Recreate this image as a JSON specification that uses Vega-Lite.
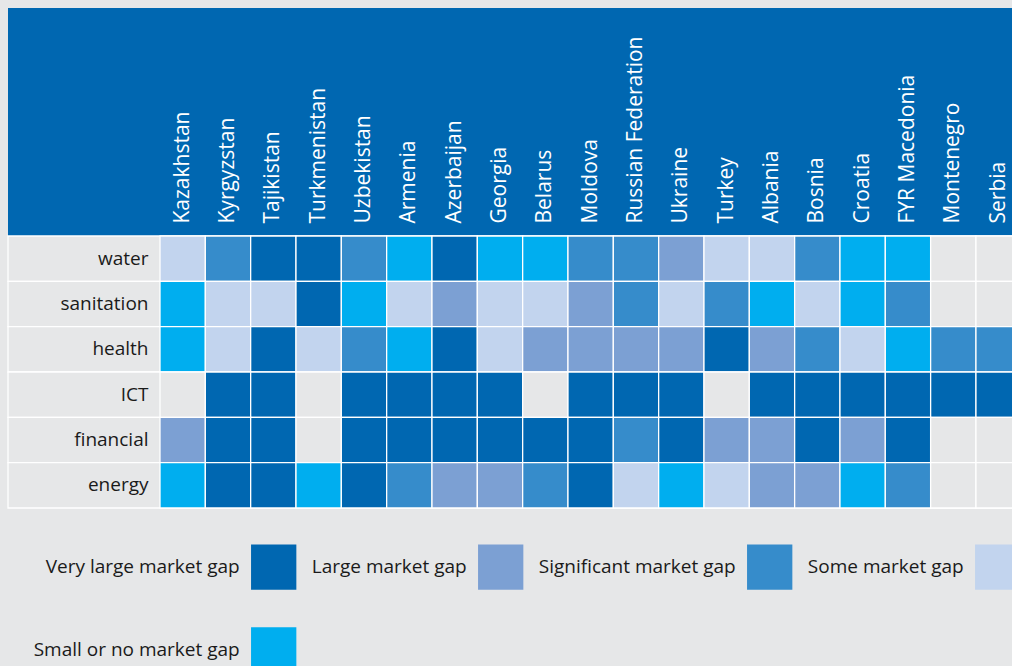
{
  "$schema": "https://vega.github.io/schema/vega-lite/v6.json",
  "width": 1004,
  "height": 500,
  "autosize": {"type": "none"},
  "padding": {"left": 8, "top": 8, "right": 0, "bottom": 158},
  "background": "#e6e7e8",
  "view": {"fill": "#0067b1", "stroke": null},
  "config": {"font": "Open Sans"},
  "data": {
    "values": [
      {"country": "Kazakhstan", "sector": "water", "gap": "Some market gap"},
      {"country": "Kyrgyzstan", "sector": "water", "gap": "Significant market gap"},
      {"country": "Tajikistan", "sector": "water", "gap": "Very large market gap"},
      {"country": "Turkmenistan", "sector": "water", "gap": "Very large market gap"},
      {"country": "Uzbekistan", "sector": "water", "gap": "Significant market gap"},
      {"country": "Armenia", "sector": "water", "gap": "Small or no market gap"},
      {"country": "Azerbaijan", "sector": "water", "gap": "Very large market gap"},
      {"country": "Georgia", "sector": "water", "gap": "Small or no market gap"},
      {"country": "Belarus", "sector": "water", "gap": "Small or no market gap"},
      {"country": "Moldova", "sector": "water", "gap": "Significant market gap"},
      {"country": "Russian Federation", "sector": "water", "gap": "Significant market gap"},
      {"country": "Ukraine", "sector": "water", "gap": "Large market gap"},
      {"country": "Turkey", "sector": "water", "gap": "Some market gap"},
      {"country": "Albania", "sector": "water", "gap": "Some market gap"},
      {"country": "Bosnia", "sector": "water", "gap": "Significant market gap"},
      {"country": "Croatia", "sector": "water", "gap": "Small or no market gap"},
      {"country": "FYR Macedonia", "sector": "water", "gap": "Small or no market gap"},
      {"country": "Montenegro", "sector": "water", "gap": "No data"},
      {"country": "Serbia", "sector": "water", "gap": "No data"},

      {"country": "Kazakhstan", "sector": "sanitation", "gap": "Small or no market gap"},
      {"country": "Kyrgyzstan", "sector": "sanitation", "gap": "Some market gap"},
      {"country": "Tajikistan", "sector": "sanitation", "gap": "Some market gap"},
      {"country": "Turkmenistan", "sector": "sanitation", "gap": "Very large market gap"},
      {"country": "Uzbekistan", "sector": "sanitation", "gap": "Small or no market gap"},
      {"country": "Armenia", "sector": "sanitation", "gap": "Some market gap"},
      {"country": "Azerbaijan", "sector": "sanitation", "gap": "Large market gap"},
      {"country": "Georgia", "sector": "sanitation", "gap": "Some market gap"},
      {"country": "Belarus", "sector": "sanitation", "gap": "Some market gap"},
      {"country": "Moldova", "sector": "sanitation", "gap": "Large market gap"},
      {"country": "Russian Federation", "sector": "sanitation", "gap": "Significant market gap"},
      {"country": "Ukraine", "sector": "sanitation", "gap": "Some market gap"},
      {"country": "Turkey", "sector": "sanitation", "gap": "Significant market gap"},
      {"country": "Albania", "sector": "sanitation", "gap": "Small or no market gap"},
      {"country": "Bosnia", "sector": "sanitation", "gap": "Some market gap"},
      {"country": "Croatia", "sector": "sanitation", "gap": "Small or no market gap"},
      {"country": "FYR Macedonia", "sector": "sanitation", "gap": "Significant market gap"},
      {"country": "Montenegro", "sector": "sanitation", "gap": "No data"},
      {"country": "Serbia", "sector": "sanitation", "gap": "No data"},

      {"country": "Kazakhstan", "sector": "health", "gap": "Small or no market gap"},
      {"country": "Kyrgyzstan", "sector": "health", "gap": "Some market gap"},
      {"country": "Tajikistan", "sector": "health", "gap": "Very large market gap"},
      {"country": "Turkmenistan", "sector": "health", "gap": "Some market gap"},
      {"country": "Uzbekistan", "sector": "health", "gap": "Significant market gap"},
      {"country": "Armenia", "sector": "health", "gap": "Small or no market gap"},
      {"country": "Azerbaijan", "sector": "health", "gap": "Very large market gap"},
      {"country": "Georgia", "sector": "health", "gap": "Some market gap"},
      {"country": "Belarus", "sector": "health", "gap": "Large market gap"},
      {"country": "Moldova", "sector": "health", "gap": "Large market gap"},
      {"country": "Russian Federation", "sector": "health", "gap": "Large market gap"},
      {"country": "Ukraine", "sector": "health", "gap": "Large market gap"},
      {"country": "Turkey", "sector": "health", "gap": "Very large market gap"},
      {"country": "Albania", "sector": "health", "gap": "Large market gap"},
      {"country": "Bosnia", "sector": "health", "gap": "Significant market gap"},
      {"country": "Croatia", "sector": "health", "gap": "Some market gap"},
      {"country": "FYR Macedonia", "sector": "health", "gap": "Small or no market gap"},
      {"country": "Montenegro", "sector": "health", "gap": "Significant market gap"},
      {"country": "Serbia", "sector": "health", "gap": "Significant market gap"},

      {"country": "Kazakhstan", "sector": "ICT", "gap": "No data"},
      {"country": "Kyrgyzstan", "sector": "ICT", "gap": "Very large market gap"},
      {"country": "Tajikistan", "sector": "ICT", "gap": "Very large market gap"},
      {"country": "Turkmenistan", "sector": "ICT", "gap": "No data"},
      {"country": "Uzbekistan", "sector": "ICT", "gap": "Very large market gap"},
      {"country": "Armenia", "sector": "ICT", "gap": "Very large market gap"},
      {"country": "Azerbaijan", "sector": "ICT", "gap": "Very large market gap"},
      {"country": "Georgia", "sector": "ICT", "gap": "Very large market gap"},
      {"country": "Belarus", "sector": "ICT", "gap": "No data"},
      {"country": "Moldova", "sector": "ICT", "gap": "Very large market gap"},
      {"country": "Russian Federation", "sector": "ICT", "gap": "Very large market gap"},
      {"country": "Ukraine", "sector": "ICT", "gap": "Very large market gap"},
      {"country": "Turkey", "sector": "ICT", "gap": "No data"},
      {"country": "Albania", "sector": "ICT", "gap": "Very large market gap"},
      {"country": "Bosnia", "sector": "ICT", "gap": "Very large market gap"},
      {"country": "Croatia", "sector": "ICT", "gap": "Very large market gap"},
      {"country": "FYR Macedonia", "sector": "ICT", "gap": "Very large market gap"},
      {"country": "Montenegro", "sector": "ICT", "gap": "Very large market gap"},
      {"country": "Serbia", "sector": "ICT", "gap": "Very large market gap"},

      {"country": "Kazakhstan", "sector": "financial", "gap": "Large market gap"},
      {"country": "Kyrgyzstan", "sector": "financial", "gap": "Very large market gap"},
      {"country": "Tajikistan", "sector": "financial", "gap": "Very large market gap"},
      {"country": "Turkmenistan", "sector": "financial", "gap": "No data"},
      {"country": "Uzbekistan", "sector": "financial", "gap": "Very large market gap"},
      {"country": "Armenia", "sector": "financial", "gap": "Very large market gap"},
      {"country": "Azerbaijan", "sector": "financial", "gap": "Very large market gap"},
      {"country": "Georgia", "sector": "financial", "gap": "Very large market gap"},
      {"country": "Belarus", "sector": "financial", "gap": "Very large market gap"},
      {"country": "Moldova", "sector": "financial", "gap": "Very large market gap"},
      {"country": "Russian Federation", "sector": "financial", "gap": "Significant market gap"},
      {"country": "Ukraine", "sector": "financial", "gap": "Very large market gap"},
      {"country": "Turkey", "sector": "financial", "gap": "Large market gap"},
      {"country": "Albania", "sector": "financial", "gap": "Large market gap"},
      {"country": "Bosnia", "sector": "financial", "gap": "Very large market gap"},
      {"country": "Croatia", "sector": "financial", "gap": "Large market gap"},
      {"country": "FYR Macedonia", "sector": "financial", "gap": "Very large market gap"},
      {"country": "Montenegro", "sector": "financial", "gap": "No data"},
      {"country": "Serbia", "sector": "financial", "gap": "No data"},

      {"country": "Kazakhstan", "sector": "energy", "gap": "Small or no market gap"},
      {"country": "Kyrgyzstan", "sector": "energy", "gap": "Very large market gap"},
      {"country": "Tajikistan", "sector": "energy", "gap": "Very large market gap"},
      {"country": "Turkmenistan", "sector": "energy", "gap": "Small or no market gap"},
      {"country": "Uzbekistan", "sector": "energy", "gap": "Very large market gap"},
      {"country": "Armenia", "sector": "energy", "gap": "Significant market gap"},
      {"country": "Azerbaijan", "sector": "energy", "gap": "Large market gap"},
      {"country": "Georgia", "sector": "energy", "gap": "Large market gap"},
      {"country": "Belarus", "sector": "energy", "gap": "Significant market gap"},
      {"country": "Moldova", "sector": "energy", "gap": "Very large market gap"},
      {"country": "Russian Federation", "sector": "energy", "gap": "Some market gap"},
      {"country": "Ukraine", "sector": "energy", "gap": "Small or no market gap"},
      {"country": "Turkey", "sector": "energy", "gap": "Some market gap"},
      {"country": "Albania", "sector": "energy", "gap": "Large market gap"},
      {"country": "Bosnia", "sector": "energy", "gap": "Large market gap"},
      {"country": "Croatia", "sector": "energy", "gap": "Small or no market gap"},
      {"country": "FYR Macedonia", "sector": "energy", "gap": "Significant market gap"},
      {"country": "Montenegro", "sector": "energy", "gap": "No data"},
      {"country": "Serbia", "sector": "energy", "gap": "No data"}
    ]
  },
  "layer": [
    {
      "transform": [{"aggregate": [{"op": "count", "as": "n"}], "groupby": ["sector"]}],
      "mark": {"type": "rect", "fill": "#e6e7e8", "stroke": "white", "strokeWidth": 1.3},
      "encoding": {
        "y": {
          "field": "sector", "type": "nominal",
          "sort": ["water", "sanitation", "health", "ICT", "financial", "energy"],
          "scale": {"range": [228, 500], "paddingInner": 0, "paddingOuter": 0},
          "axis": {"orient": "left", "title": null, "offset": -152, "labelPadding": 12, "ticks": false, "domain": false, "grid": false, "labelFontSize": 19, "labelColor": "#1a1a1a", "labelFont": "Open Sans", "zindex": 1, "labelLimit": 300}
        }
      }
    },
    {
      "mark": {"type": "rect", "stroke": "white", "strokeWidth": 1.3},
      "encoding": {
        "x": {
          "field": "country", "type": "nominal",
          "sort": ["Kazakhstan", "Kyrgyzstan", "Tajikistan", "Turkmenistan", "Uzbekistan", "Armenia", "Azerbaijan", "Georgia", "Belarus", "Moldova", "Russian Federation", "Ukraine", "Turkey", "Albania", "Bosnia", "Croatia", "FYR Macedonia", "Montenegro", "Serbia"],
          "scale": {"range": [152, 1013.3], "paddingInner": 0, "paddingOuter": 0},
          "axis": {"orient": "top", "title": null, "offset": -215, "labelPadding": 0, "labelAngle": -90, "labelAlign": "left", "labelBaseline": "middle", "ticks": false, "domain": false, "grid": false, "labelFontSize": 21, "labelColor": "white", "labelFont": "Open Sans", "zindex": 1, "labelLimit": 300, "labelOverlap": false}
        },
        "y": {
          "field": "sector", "type": "nominal",
          "sort": ["water", "sanitation", "health", "ICT", "financial", "energy"],
          "scale": {"range": [228, 500], "paddingInner": 0, "paddingOuter": 0},
          "axis": {"orient": "left", "title": null, "offset": -152, "labelPadding": 12, "ticks": false, "domain": false, "grid": false, "labelFontSize": 19, "labelColor": "#1a1a1a", "labelFont": "Open Sans", "zindex": 1, "labelLimit": 300}
        },
        "fill": {
          "field": "gap", "type": "nominal",
          "scale": {
            "domain": ["Very large market gap", "Large market gap", "Significant market gap", "Some market gap", "Small or no market gap", "No data"],
            "range": ["#0067b1", "#7ca0d3", "#368ccb", "#c2d4ee", "#00aeef", "#e6e7e8"]
          },
          "legend": {
            "title": null, "orient": "none", "legendX": 242.7, "legendY": 536,
            "direction": "horizontal", "columns": 4, "padding": 0,
            "values": ["Very large market gap", "Large market gap", "Significant market gap", "Some market gap", "Small or no market gap"],
            "symbolType": "square", "symbolSize": 2052, "symbolStrokeWidth": 0, "symbolOpacity": 1,
            "labelAlign": "right", "labelOffset": -57, "labelFontSize": 19, "labelColor": "#1a1a1a", "labelFont": "Open Sans", "labelLimit": 400,
            "columnPadding": 15, "rowPadding": 37
          }
        }
      }
    }
  ]
}
